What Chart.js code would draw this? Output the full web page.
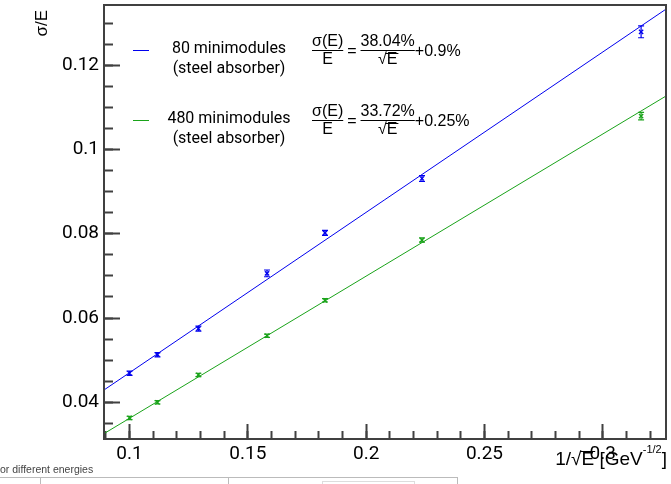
<!DOCTYPE html>
<html>
<head>
<meta charset="utf-8">
<script src="https://cdn.jsdelivr.net/npm/chart.js@4.4.1/dist/chart.umd.min.js"></script>
<style>
  html, body { margin: 0; padding: 0; background: #fff; }
  #wrap { width: 671px; height: 484px; position: relative; }
</style>
</head>
<body>
<div id="wrap"><canvas id="resChart"></canvas></div>
<script>
// 1/sqrt(E) for E = 100, 80, 60, 40, 30, 20, 10 GeV
const invSqrtE = [0.1, 0.1118, 0.1291, 0.1581, 0.1826, 0.2236, 0.3162];

// measured sigma/E and errors, 80 minimodules
const sigma80 = [0.0469, 0.0513, 0.0575, 0.0706, 0.0802, 0.0931, 0.1279];
const err80 = [0.0005, 0.0005, 0.0006, 0.0008, 0.0006, 0.0007, 0.0014];

// measured sigma/E and errors, 480 minimodules
const sigma480 = [0.0363, 0.0400, 0.0465, 0.0558, 0.0642, 0.0785, 0.1079];
const err480 = [0.0004, 0.0004, 0.0004, 0.0004, 0.0004, 0.0005, 0.0009];

// fit results in percent: stochastic term and constant term
const seriesNames = ['80 minimodules', '480 minimodules'];
const fitStochastic = ['38.04', '33.72'];
const fitConstant = ['0.9', '0.25'];

const xRange = [0.0892, 0.3266];
const yRange = [0.0313, 0.1342];
const xSteps = [0.01, 0.05];   // minor, major
const ySteps = [0.005, 0.02];

const colors = ['#0000ee', '#1aa31a'];
const axisColor = '#404040';
const numFont = 'Roboto';
const mathFont = '"Liberation Sans", Arial, sans-serif';

function fitLine(k) {
  const a = parseFloat(fitStochastic[k]) / 100;
  const b = parseFloat(fitConstant[k]) / 100;
  return xRange.map(x => ({ x: x, y: a * x + b }));
}

function points(ys) {
  return invSqrtE.map((x, i) => ({ x: x, y: ys[i] }));
}

// tick marks only, pointing into the plot (negative tick length)
function inwardGrid(len) {
  return {
    display: true, drawOnChartArea: false, drawTicks: true,
    tickLength: -len, tickWidth: 2, tickColor: axisColor
  };
}

// closed frame around the plot area
function drawFrame(chart) {
  const { ctx, chartArea: a } = chart;
  const L = Math.round(a.left), T = Math.round(a.top);
  const R = Math.round(a.right), B = Math.round(a.bottom);
  ctx.save();
  ctx.fillStyle = axisColor;
  ctx.fillRect(L - 1, T - 1, R - L + 2, 2);
  ctx.fillRect(L - 1, B - 1, R - L + 2, 2);
  ctx.fillRect(L - 1, T - 1, 2, B - T + 2);
  ctx.fillRect(R - 1, T - 1, 2, B - T + 2);
  ctx.restore();
}

// vertical error bars with end caps
const errorBars = {
  id: 'errorBars',
  afterDatasetsDraw(chart) {
    const { ctx, scales: { x, y } } = chart;
    chart.data.datasets.forEach(ds => {
      if (!ds.errors) return;
      ctx.save();
      ctx.strokeStyle = ds.borderColor;
      ctx.lineWidth = 1.2;
      ctx.beginPath();
      ds.data.forEach((p, i) => {
        const px = x.getPixelForValue(p.x);
        const top = y.getPixelForValue(p.y + ds.errors[i]);
        const bot = y.getPixelForValue(p.y - ds.errors[i]);
        ctx.moveTo(px, top); ctx.lineTo(px, bot);
        ctx.moveTo(px - 3, top); ctx.lineTo(px + 3, top);
        ctx.moveTo(px - 3, bot); ctx.lineTo(px + 3, bot);
      });
      ctx.stroke();
      ctx.restore();
    });
  }
};

// draws "√E" with an overline, returns width used
function drawSqrtE(ctx, x, base, size) {
  const wR = ctx.measureText('√').width;
  const wE = ctx.measureText('E').width;
  ctx.fillText('√', x, base);
  ctx.fillRect(x + wR - 1, Math.round(base - size * 0.86), wE + 2, 1);
  ctx.fillText('E', x + wR, base);
  return wR + wE;
}

function drawFormula(ctx, k, x0, lineY) {
  const fs = 16;
  ctx.font = fs + 'px ' + mathFont;
  ctx.fillStyle = '#000';
  ctx.textBaseline = 'alphabetic';
  ctx.textAlign = 'left';
  const numBase = lineY - 4;
  const denBase = lineY + 14;

  // sigma(E) / E
  const w1 = ctx.measureText('σ(E)').width;
  ctx.fillText('σ(E)', x0, numBase);
  ctx.fillRect(x0, lineY, w1, 1);
  const wE = ctx.measureText('E').width;
  ctx.fillText('E', x0 + (w1 - wE) / 2, denBase);

  let x = x0 + w1 + 4;
  ctx.fillText('=', x, lineY + 6);
  x += ctx.measureText('=').width + 4;

  // stochastic term over sqrt(E)
  const num = fitStochastic[k] + '%';
  const w2 = ctx.measureText(num).width;
  ctx.fillText(num, x, numBase);
  ctx.fillRect(x, lineY, w2, 1);
  const wS = ctx.measureText('√E').width;
  drawSqrtE(ctx, x + (w2 - wS) / 2, denBase, fs * 0.8);

  x += w2;
  ctx.fillText('+' + fitConstant[k] + '%', x, lineY + 6);
}

const annotations = {
  id: 'annotations',
  afterDraw(chart) {
    const { ctx } = chart;
    ctx.save();

    // legend entries
    const rows = [50, 120];
    rows.forEach((ry, k) => {
      ctx.fillStyle = colors[k];
      ctx.fillRect(133, ry, 16, 1);
      ctx.fillStyle = '#000';
      ctx.font = '16px ' + numFont;
      ctx.textAlign = 'center';
      ctx.textBaseline = 'middle';
      ctx.fillText(seriesNames[k], 229, ry - 1);
      ctx.fillText('(steel absorber)', 229, ry + 19);
      drawFormula(ctx, k, 312, ry);
    });

    // y axis title
    ctx.save();
    ctx.translate(47, 10);
    ctx.rotate(-Math.PI / 2);
    ctx.font = '17px ' + mathFont;
    ctx.fillStyle = '#000';
    ctx.textAlign = 'right';
    ctx.textBaseline = 'alphabetic';
    ctx.fillText('σ/E', 0, 0);
    ctx.restore();

    // x axis title: 1/sqrt(E) [GeV^-1/2]
    ctx.fillStyle = '#000';
    ctx.textAlign = 'left';
    ctx.textBaseline = 'alphabetic';
    const base = 465;
    ctx.font = '19px ' + mathFont;
    const wA = ctx.measureText('1/').width;
    const wS = ctx.measureText('√E').width;
    const wB = ctx.measureText(' [GeV').width;
    const wC = ctx.measureText(']').width;
    ctx.font = '11px ' + mathFont;
    const wSup = ctx.measureText('-1/2').width;
    let x = 667 - (wA + wS + wB + wSup + wC);
    ctx.font = '19px ' + mathFont;
    ctx.fillText('1/', x, base);
    x += wA;
    x += drawSqrtE(ctx, x, base, 16);
    ctx.fillText(' [GeV', x, base);
    x += wB;
    ctx.font = '11px ' + mathFont;
    ctx.fillText('-1/2', x, base - 12);
    x += wSup;
    ctx.font = '19px ' + mathFont;
    ctx.fillText(']', x, base);

    // strip of the page below the figure
    ctx.font = '10.5px "Liberation Sans", sans-serif';
    ctx.fillStyle = '#444';
    ctx.fillText('or different energies', 0, 473);
    ctx.fillStyle = '#bbb';
    ctx.fillRect(0, 477, 458, 1);
    [40, 228, 457].forEach(vx => ctx.fillRect(vx, 477, 1, 7));
    ctx.fillStyle = '#ddd';
    ctx.fillRect(322, 481, 93, 1);
    ctx.fillRect(322, 481, 1, 3);
    ctx.fillRect(414, 481, 1, 3);

    ctx.restore();

    drawFrame(chart);
  }
};

const ctx = document.getElementById('resChart').getContext('2d');

const labelFmt = v => String(+v.toFixed(3));

new Chart(ctx, {
  type: 'scatter',
  data: {
    datasets: [
      {
        data: fitLine(0), showLine: true, pointRadius: 0,
        borderColor: colors[0], borderWidth: 1, xAxisID: 'x', yAxisID: 'y'
      },
      {
        data: fitLine(1), showLine: true, pointRadius: 0,
        borderColor: colors[1], borderWidth: 1, xAxisID: 'x', yAxisID: 'y'
      },
      {
        data: points(sigma80), errors: err80, xAxisID: 'x', yAxisID: 'y',
        pointStyle: 'crossRot', pointRadius: 3, borderWidth: 1.3,
        borderColor: colors[0], backgroundColor: colors[0]
      },
      {
        data: points(sigma480), errors: err480, xAxisID: 'x', yAxisID: 'y',
        pointStyle: 'crossRot', pointRadius: 3, borderWidth: 1.3,
        borderColor: colors[1], backgroundColor: colors[1]
      }
    ]
  },
  options: {
    responsive: true,
    maintainAspectRatio: false,
    animation: false,
    layout: { padding: { top: 5, right: 5, left: 0, bottom: 0 } },
    scales: {
      // labelled axes with the long ticks
      x: {
        type: 'linear',
        position: 'bottom',
        min: xRange[0],
        max: xRange[1],
        afterFit: s => { s.height = 45; s.paddingLeft = 0; s.paddingRight = 0; },
        border: { display: false },
        grid: inwardGrid(15),
        ticks: {
          stepSize: xSteps[1],
          includeBounds: false,
          autoSkip: false,
          maxRotation: 0,
          padding: 19,
          color: '#000',
          font: { family: numFont, size: 19 },
          callback: labelFmt
        }
      },
      y: {
        type: 'linear',
        position: 'left',
        min: yRange[0],
        max: yRange[1],
        afterFit: s => { s.width = 104; s.paddingTop = 0; s.paddingBottom = 0; },
        border: { display: false },
        grid: inwardGrid(16),
        ticks: {
          stepSize: ySteps[1],
          includeBounds: false,
          autoSkip: false,
          padding: 21,
          color: '#000',
          font: { family: numFont, size: 19 },
          callback: labelFmt
        }
      },
      // zero-size axes that only carry the short minor ticks
      xMinor: {
        type: 'linear',
        axis: 'x',
        position: 'bottom',
        weight: -1,
        min: xRange[0],
        max: xRange[1],
        afterFit: s => { s.height = 0; s.paddingLeft = 0; s.paddingRight = 0; },
        border: { display: false },
        grid: inwardGrid(8),
        ticks: { display: false, stepSize: xSteps[0], includeBounds: false, autoSkip: false }
      },
      yMinor: {
        type: 'linear',
        axis: 'y',
        position: 'left',
        weight: -1,
        min: yRange[0],
        max: yRange[1],
        afterFit: s => { s.width = 0; s.paddingTop = 0; s.paddingBottom = 0; },
        border: { display: false },
        grid: inwardGrid(9),
        ticks: { display: false, stepSize: ySteps[0], includeBounds: false, autoSkip: false }
      }
    },
    plugins: {
      legend: { display: false },
      tooltip: { enabled: false }
    }
  },
  plugins: [errorBars, annotations]
});
</script>
</body>
</html>
